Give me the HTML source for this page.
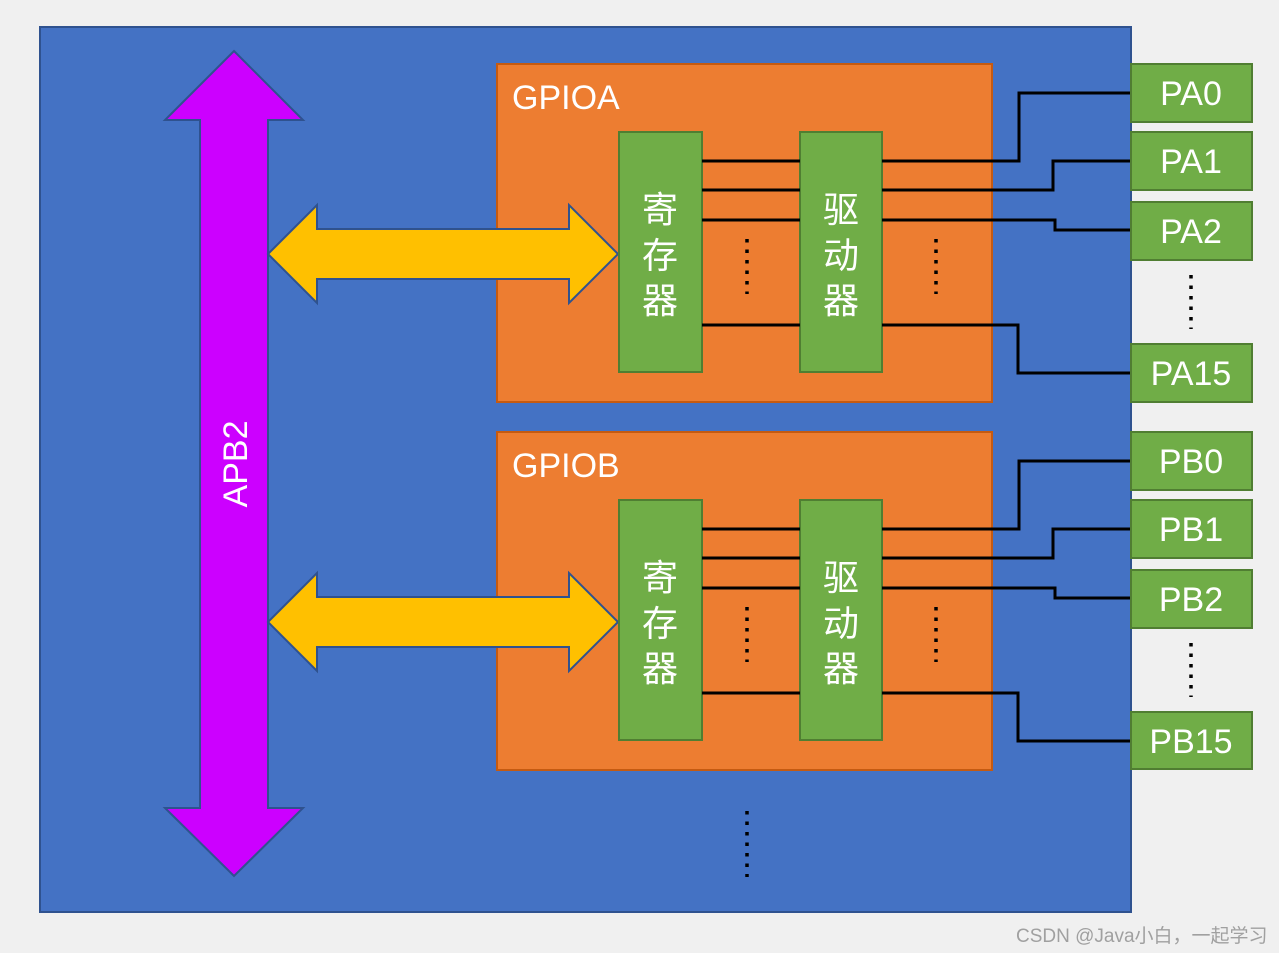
<!DOCTYPE html>
<html><head><meta charset="utf-8"><style>
html,body{margin:0;padding:0;background:#f0f0f0;}
svg{display:block;font-family:"Liberation Sans","Noto Sans CJK SC",sans-serif;}
</style></head><body>
<svg width="1279" height="953" viewBox="0 0 1279 953" xmlns="http://www.w3.org/2000/svg">
<rect x="0" y="0" width="1279" height="953" fill="#f0f0f0"/>
<rect x="40" y="27" width="1091" height="885" fill="#4472c4" stroke="#2f528f" stroke-width="2"/>
<polygon points="234,51 303,120 268,120 268,808 303,808 234,876 165,808 200,808 200,120 165,120" fill="#cc00ff" stroke="#2f528f" stroke-width="2"/>
<text x="0" y="0" transform="translate(247,464) rotate(-90)" text-anchor="middle" fill="#fff" font-size="34">APB2</text>

<g id="A">
<rect x="497" y="64" width="495" height="338" fill="#ed7d31" stroke="#c55a11" stroke-width="2"/>
<polygon points="268,254 317,205 317,229 569,229 569,205 618,254 569,303 569,279 317,279 317,303" fill="#ffc000" stroke="#2f528f" stroke-width="2"/>
<rect x="619" y="132" width="83" height="240" fill="#70ad47" stroke="#507e32" stroke-width="2"/>
<rect x="800" y="132" width="82" height="240" fill="#70ad47" stroke="#507e32" stroke-width="2"/>
<g fill="#fff" font-size="36" text-anchor="middle">
<text x="660" y="222">寄</text><text x="660" y="268">存</text><text x="660" y="313">器</text>
<text x="841" y="222">驱</text><text x="841" y="268">动</text><text x="841" y="313">器</text>
</g>
<g stroke="#000" stroke-width="3" fill="none">
<line x1="702" y1="161" x2="800" y2="161"/><line x1="702" y1="190" x2="800" y2="190"/>
<line x1="702" y1="220" x2="800" y2="220"/><line x1="702" y1="325" x2="800" y2="325"/>
<polyline points="882,161 1019,161 1019,93 1131,93"/>
<polyline points="882,190 1053,190 1053,161 1131,161"/>
<polyline points="882,220 1055,220 1055,230 1131,230"/>
<polyline points="882,325 1018,325 1018,373 1131,373"/>
</g>
<g stroke="#000" stroke-width="3.5" stroke-dasharray="3.5 7">
<line x1="747" y1="239" x2="747" y2="294"/><line x1="936" y1="239" x2="936" y2="294"/>
<line x1="1191" y1="275" x2="1191" y2="329"/>
</g>
</g>
<use href="#A" transform="translate(0,368)"/>
<text x="512" y="109" fill="#fff" font-size="34">GPIOA</text>
<text x="512" y="477" fill="#fff" font-size="34">GPIOB</text>

<g fill="#70ad47" stroke="#507e32" stroke-width="2">
<rect x="1131" y="64" width="121" height="58"/><rect x="1131" y="132" width="121" height="58"/>
<rect x="1131" y="202" width="121" height="58"/><rect x="1131" y="344" width="121" height="58"/>
<rect x="1131" y="432" width="121" height="58"/><rect x="1131" y="500" width="121" height="58"/>
<rect x="1131" y="570" width="121" height="58"/><rect x="1131" y="712" width="121" height="57"/>
</g>
<g fill="#fff" font-size="34" text-anchor="middle">
<text x="1191" y="105">PA0</text><text x="1191" y="173">PA1</text><text x="1191" y="243">PA2</text><text x="1191" y="385">PA15</text>
<text x="1191" y="473">PB0</text><text x="1191" y="541">PB1</text><text x="1191" y="611">PB2</text><text x="1191" y="753">PB15</text>
</g>
<line x1="747" y1="811" x2="747" y2="877" stroke="#000" stroke-width="3.5" stroke-dasharray="3.5 7"/>
<text x="1016" y="942" fill="#a0a0a0" font-size="19">CSDN @Java小白，一起学习</text>
</svg>
</body></html>
